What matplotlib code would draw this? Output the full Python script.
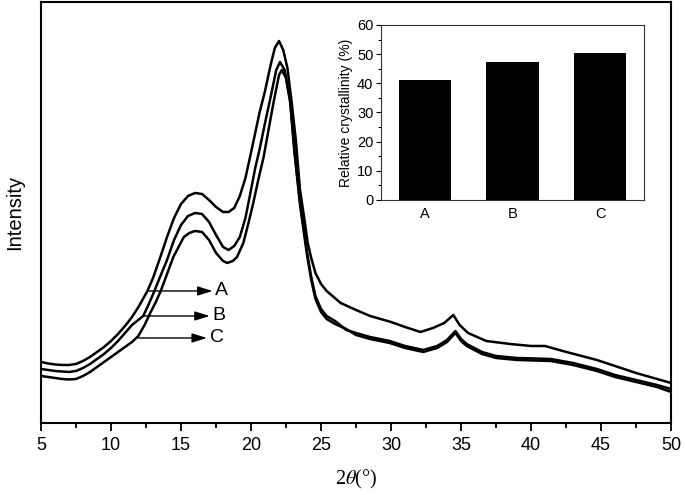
import matplotlib
matplotlib.use("Agg")
import matplotlib.pyplot as plt

plt.rcParams['font.family'] = ['Liberation Sans', 'DejaVu Sans']
plt.rcParams['mathtext.fontset'] = 'stix'

# ---- XRD data (2theta, intensity a.u.) ----
A_x = [5.0, 5.5, 6.0, 6.5, 7.0, 7.5, 8.0, 8.5, 9.0, 9.5,
       10.0, 10.5, 11.0, 11.5, 12.0, 12.6, 13.0, 13.5, 14.0, 14.5,
       15.0, 15.5, 16.0, 16.5, 17.0, 17.5, 18.0, 18.4, 18.8, 19.2,
       19.6, 19.9, 20.3, 20.6, 21.0, 21.4, 21.7, 22.0, 22.3, 22.6,
       22.9, 23.2, 23.5, 23.8, 24.05, 24.3, 24.6, 25.0, 25.4, 25.9,
       26.4, 27.5, 28.5, 30.0, 31.0, 32.1, 33.0, 33.8, 34.45, 34.9,
       35.5, 36.8, 38.5, 40.0, 41.0, 42.0, 42.8, 44.7, 46.0, 47.5,
       49.0, 50.0]
A_y = [61, 59.5, 58.5, 58, 58, 59, 62, 66, 71, 76,
       82, 89, 97, 106, 117, 132, 145, 165, 186, 205,
       219, 227, 230, 229, 223, 216, 211, 211, 215, 227,
       245, 264, 290, 310, 332, 358, 375, 382, 373, 355,
       321, 283, 233, 205, 180, 165, 150, 139, 132, 126,
       120, 113, 107, 101, 96, 91, 95, 100, 108, 98,
       90, 82, 79, 77, 77, 73, 70, 63, 57, 50,
       44, 40]

B_x = [5.0, 5.5, 6.0, 6.5, 7.0, 7.5, 8.0, 8.5, 9.0, 9.5,
       10.0, 10.5, 11.0, 11.5, 12.3, 12.7, 13.1, 13.5, 14.0, 14.5,
       15.0, 15.5, 16.0, 16.5, 17.0, 17.5, 18.0, 18.4, 18.8, 19.2,
       19.6, 19.9, 20.3, 20.6, 21.0, 21.4, 21.8, 22.07, 22.4, 22.8,
       23.1, 23.5, 24.0, 24.3, 24.6, 25.0, 25.4, 26.0, 26.8, 27.5,
       28.5, 29.9, 31.0, 32.3, 33.3, 34.0, 34.6, 35.0, 35.4, 36.5,
       37.5, 39.0, 41.4, 43.0, 44.7, 46.0, 47.5, 49.0, 50.0]
B_y = [54, 53, 52, 51.5, 51, 52, 55, 59, 64, 69,
       75, 82, 90, 98, 107, 119, 132, 146, 163, 183,
       198, 207, 210, 209, 201, 188, 176, 173, 177, 186,
       205, 226, 255, 273, 300, 326, 353, 361, 353, 323,
       273, 221, 171, 146, 127, 114, 107, 102, 93, 90,
       86, 82, 77, 73, 77, 83, 92, 84, 79, 71,
       67, 65, 64, 60, 54, 48, 43, 38, 34]

C_x = [5.0, 5.5, 6.0, 6.5, 7.0, 7.5, 8.0, 8.5, 9.0, 9.5,
       10.0, 10.5, 11.0, 11.5, 11.95, 12.4, 12.8, 13.2, 13.55, 14.0,
       14.45, 15.2, 15.6, 16.0, 16.5, 17.0, 17.5, 18.0, 18.3, 18.7,
       19.0, 19.45, 19.8, 20.16, 20.5, 20.9, 21.3, 21.6, 22.0, 22.2,
       22.5, 22.8, 23.1, 23.5, 24.0, 24.3, 24.6, 25.0, 25.4, 26.0,
       26.8, 27.5, 28.5, 29.9, 31.0, 32.3, 33.3, 34.0, 34.6, 35.0,
       35.4, 36.5, 37.5, 39.0, 41.4, 43.0, 44.7, 46.0, 47.5, 49.0,
       50.0]
C_y = [47, 46, 45, 44, 43.5, 44, 47, 51, 56, 61,
       66, 71, 76, 81, 87, 98, 110, 121, 132, 149,
       166, 186, 190, 192, 191, 183, 170, 162, 160, 162,
       166, 180, 199, 220, 242, 266, 297, 320, 348, 353,
       345, 320, 271, 218, 168, 143, 124, 111, 104, 99,
       94, 88, 84, 80, 75, 71, 75, 81, 90, 82,
       77, 69, 65, 63, 62, 58, 52, 46, 41, 36,
       31]

# curve labels: (text, arrow start x, arrow end x, intensity level)
labels = [("A", 12.6, 17.25, 132), ("B", 12.3, 17.05, 107), ("C", 11.95, 16.85, 85)]

# ---- inset data ----
inset_cats = ["A", "B", "C"]
inset_vals = [41.0, 47.2, 50.4]

fig = plt.figure(figsize=(6.85, 4.95), dpi=100)
ax = fig.add_axes([0.0599, 0.1455, 0.9197, 0.8505])

for xs, ys in [(A_x, A_y), (B_x, B_y), (C_x, C_y)]:
    ax.plot(xs, ys, color='black', lw=1.8, solid_joinstyle='round')

ax.set_xlim(5, 50)
ax.set_ylim(0, 421)
ax.set_xticks(range(5, 51, 5))
ax.set_xticks([x + 2.5 for x in range(5, 50, 5)], minor=True)
ax.set_yticks([])
ax.tick_params(axis='x', which='major', direction='out', length=6, width=1.3,
               labelsize=13, pad=4)
ax.tick_params(axis='x', which='minor', direction='out', length=3.8, width=1.3)
for s in ax.spines.values():
    s.set_linewidth(1.5)

ax.set_xlabel(r"2$\it{\theta}$(°)", family=['Liberation Serif', 'DejaVu Serif'],
              fontsize=14.5, labelpad=10)
ax.set_ylabel("Intensity", fontsize=14.5, labelpad=12)

for txt, x0, x1, yv in labels:
    ax.annotate("", xy=(x1, yv), xytext=(x0, yv),
                arrowprops=dict(arrowstyle='-|>,head_length=0.9,head_width=0.28',
                                color='black', lw=1.0, shrinkA=0, shrinkB=0))
    ax.text(x1 + 0.2, yv, txt, fontsize=14, va='center', ha='left')

# ---- inset bar chart ----
ins = fig.add_axes([0.5562, 0.5960, 0.3839, 0.3535])
ins.bar(range(len(inset_cats)), inset_vals, width=0.6, color='black')
ins.set_xlim(-0.5, 2.5)
ins.set_ylim(0, 60)
ins.set_xticks(range(len(inset_cats)))
ins.set_xticklabels(inset_cats)
ins.set_yticks(range(0, 61, 10))
ins.set_yticks(range(5, 60, 10), minor=True)
ins.tick_params(axis='x', length=0, labelsize=10.5, pad=5)
ins.tick_params(axis='y', which='major', direction='out', length=3.5, width=0.8,
                labelsize=10.5, pad=2)
ins.tick_params(axis='y', which='minor', direction='out', length=2, width=0.8)
for s in ins.spines.values():
    s.set_linewidth(0.8)
    s.set_color('#333333')
ins.set_ylabel("Relative crystallinity (%)", fontsize=10, labelpad=3)

fig.savefig("out.png", dpi=100)
